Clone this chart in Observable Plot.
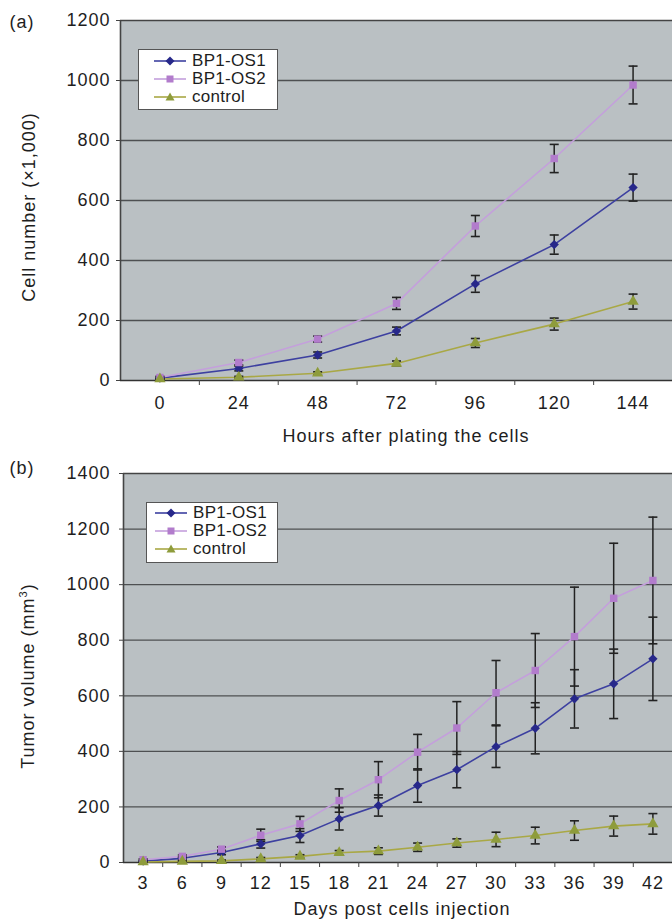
<!DOCTYPE html>
<html><head><meta charset="utf-8">
<script src="https://cdn.jsdelivr.net/npm/d3@7"></script>
<script src="https://cdn.jsdelivr.net/npm/@observablehq/plot@0.6"></script>
<style>
body{margin:0;background:#fff;}
#fig{position:relative;width:672px;height:921px;overflow:hidden;font-family:"Liberation Sans",Arial,Helvetica,sans-serif;color:#1e1e1e;}
.panel{position:absolute;left:0;}
.tag{position:absolute;font-size:18px;letter-spacing:1px;transform:translate(-50%,-50%);}
.xt{position:absolute;font-size:18px;letter-spacing:1px;transform:translate(-50%,-50%);white-space:nowrap;}
.yt{position:absolute;font-size:18px;letter-spacing:1px;transform:translate(-50%,-50%) rotate(-90deg);white-space:nowrap;}
.yt sup{font-size:11px;vertical-align:7px;line-height:0;}
.legend{position:absolute;background:#fff;border:1.5px solid #555;box-sizing:border-box;font-size:17px;white-space:nowrap;}
.legend .row{display:flex;align-items:center;height:18px;letter-spacing:0.3px;white-space:nowrap;}
.legend svg{flex:none;}
</style></head><body><div id="fig"></div>
<script>
// ---------- data ----------
const seriesNames = ["BP1-OS1", "BP1-OS2", "control"];

// panel (a): cell number (x1,000) vs hours after plating
const hours = [0, 24, 48, 72, 96, 120, 144];
const cellOS1 = [8, 40, 85, 165, 322, 453, 643];
const cellOS1Err = [3, 8, 10, 13, 28, 32, 45];
const cellOS2 = [10, 60, 138, 257, 515, 740, 985];
const cellOS2Err = [4, 8, 10, 20, 35, 47, 63];
const cellCtrl = [5, 11, 24, 57, 125, 188, 263];
const cellCtrlErr = [2, 3, 5, 8, 15, 20, 25];
const yTicksA = [0, 200, 400, 600, 800, 1000, 1200];

// panel (b): tumor volume (mm3) vs days post injection
const days = [3, 6, 9, 12, 15, 18, 21, 24, 27, 30, 33, 36, 39, 42];
const tumOS1 = [5, 15, 36, 67, 97, 157, 205, 277, 334, 417, 483, 589, 643, 733];
const tumOS1Err = [3, 5, 8, 15, 25, 40, 38, 60, 65, 75, 92, 105, 125, 150];
const tumOS2 = [10, 22, 48, 98, 139, 223, 298, 397, 484, 611, 691, 813, 951, 1015];
const tumOS2Err = [3, 5, 8, 22, 27, 42, 65, 64, 95, 116, 133, 178, 198, 228];
const tumCtrl = [2, 4, 6, 13, 22, 35, 41, 55, 70, 83, 97, 115, 131, 139];
const tumCtrlErr = [1, 2, 3, 5, 6, 8, 12, 15, 15, 26, 30, 35, 36, 37];
const yTicksB = [0, 200, 400, 600, 800, 1000, 1200, 1400];

// ---------- styles ----------
const lineColors = ["#3d40a0", "#c49fdc", "#a9a845"];
const markColors = ["#27288a", "#b27ccc", "#8e9c3c"];
const symbols = ["diamond2", "square", "triangle"];
const bg = "#bac0c3";
const gridColor = "#4e5052";
const errColor = "#222";
const font = '"Liberation Sans", Arial, Helvetica, sans-serif';
const cap = {draw(ctx) { ctx.moveTo(-4.5, 0); ctx.lineTo(4.5, 0); }};
const plain = d => String(d);

function rows(xs, ys, es, name) {
  return xs.map((x, i) => ({series: name, x, y: ys[i], lo: ys[i] - es[i], hi: ys[i] + es[i]}));
}
function bounds(xs) {
  const step = xs[1] - xs[0];
  return [...xs.map(x => x - step / 2), xs[xs.length - 1] + step / 2];
}

function panel({xs, sets, yTicks, marginLeft, marginTop, plotH, marginBottom, tickPad, yPad}) {
  const b = bounds(xs);
  const xDom = [b[0], b[b.length - 1]];
  const yDom = [yTicks[0], yTicks[yTicks.length - 1]];
  const marks = [
    Plot.frame({fill: bg, stroke: null}),
    Plot.gridY(yTicks.slice(1, -1), {stroke: gridColor, strokeOpacity: 1, strokeWidth: 1.3}),
    Plot.ruleY([yDom[1]], {stroke: "#444", strokeWidth: 1.6}),
    Plot.ruleX([xDom[0]], {stroke: "#444", strokeWidth: 1.6}),
    Plot.ruleY([yDom[0]], {stroke: "#333", strokeWidth: 1.5}),
    Plot.axisY(yTicks, {tickSize: 4, tickPadding: yPad, label: null, stroke: "#444", tickFormat: plain}),
    Plot.axisX(b.slice(1, -1), {tickSize: 5, tickFormat: () => "", label: null, stroke: "#444"}),
    Plot.axisX(xs, {tickSize: 0, tickPadding: tickPad, label: null, tickFormat: plain})
  ];
  sets.forEach((d, k) => {
    marks.push(Plot.line(d, {x: "x", y: "y", stroke: lineColors[k], strokeWidth: 1.6}));
  });
  sets.forEach((d, k) => {
    marks.push(Plot.ruleX(d, {x: "x", y1: "lo", y2: "hi", stroke: errColor, strokeWidth: 1.5}));
    marks.push(Plot.dot(d, {x: "x", y: "lo", symbol: cap, stroke: errColor, strokeWidth: 1.6, fill: "none"}));
    marks.push(Plot.dot(d, {x: "x", y: "hi", symbol: cap, stroke: errColor, strokeWidth: 1.6, fill: "none"}));
  });
  sets.forEach((d, k) => {
    marks.push(Plot.dot(d, {x: "x", y: "y", symbol: symbols[k], r: 4.2, fill: markColors[k], stroke: null}));
  });
  return Plot.plot({
    width: 672,
    height: marginTop + plotH + marginBottom,
    marginLeft, marginRight: 0, marginTop, marginBottom,
    x: {type: "linear", domain: xDom},
    y: {type: "linear", domain: yDom},
    style: {fontSize: "18px", fontFamily: font, letterSpacing: "1px", color: "#1e1e1e", background: "transparent", overflow: "visible"},
    marks
  });
}

const fig = document.getElementById("fig");

// panel (a)
const setsA = [
  rows(hours, cellOS1, cellOS1Err, seriesNames[0]),
  rows(hours, cellOS2, cellOS2Err, seriesNames[1]),
  rows(hours, cellCtrl, cellCtrlErr, seriesNames[2])
];
const pa = panel({xs: hours, sets: setsA, yTicks: yTicksA, marginLeft: 120, marginTop: 20, plotH: 360, marginBottom: 72, tickPad: 16, yPad: 6});
pa.classList.add("panel"); pa.style.top = "0px";
fig.appendChild(pa);

// panel (b)
const setsB = [
  rows(days, tumOS1, tumOS1Err, seriesNames[0]),
  rows(days, tumOS2, tumOS2Err, seriesNames[1]),
  rows(days, tumCtrl, tumCtrlErr, seriesNames[2])
];
const pb = panel({xs: days, sets: setsB, yTicks: yTicksB, marginLeft: 123, marginTop: 18, plotH: 389, marginBottom: 59, tickPad: 14, yPad: 9});
pb.classList.add("panel"); pb.style.top = "455px";
fig.appendChild(pb);

// text labels
function addDiv(cls, html, x, y) {
  const d = document.createElement("div");
  d.className = cls; d.innerHTML = html;
  d.style.left = x + "px"; d.style.top = y + "px";
  fig.appendChild(d);
}
addDiv("tag", "(a)", 22, 22);
addDiv("tag", "(b)", 22, 468);
addDiv("xt", "Hours after plating the cells", 406, 436);
addDiv("xt", "Days post cells injection", 402, 909);
addDiv("yt", "Cell number (×1,000)", 29, 207);
addDiv("yt", "Tumor volume (mm<sup>3</sup>)", 28, 676);

// legends
function swatch(k) {
  const c = 17;
  const shapes = [
    `<path d="M${c},4.5 L${c + 4.5},9 L${c},13.5 L${c - 4.5},9 Z" fill="${markColors[k]}"/>`,
    `<rect x="${c - 3.5}" y="5.5" width="7" height="7" fill="${markColors[k]}"/>`,
    `<path d="M${c},4.5 L${c + 4.5},12.5 L${c - 4.5},12.5 Z" fill="${markColors[k]}"/>`
  ];
  return `<svg width="34" height="18" viewBox="0 0 34 18">
    <line x1="1" y1="9" x2="33" y2="9" stroke="${lineColors[k]}" stroke-width="1.6"/>${shapes[k]}</svg>`;
}
function legend(x, y, w, h, padLeft, gap, padTop) {
  const d = document.createElement("div");
  d.className = "legend";
  Object.assign(d.style, {left: x + "px", top: y + "px", width: w + "px", height: h + "px", paddingLeft: padLeft + "px", paddingTop: padTop + "px"});
  d.innerHTML = seriesNames.map((n, k) =>
    `<div class="row">${swatch(k)}<span style="margin-left:${gap}px">${n}</span></div>`).join("");
  fig.appendChild(d);
}
legend(138, 49, 140, 61, 14, 5, 2);
legend(146, 502, 132, 61, 7, 5, 1);
</script></body></html>
